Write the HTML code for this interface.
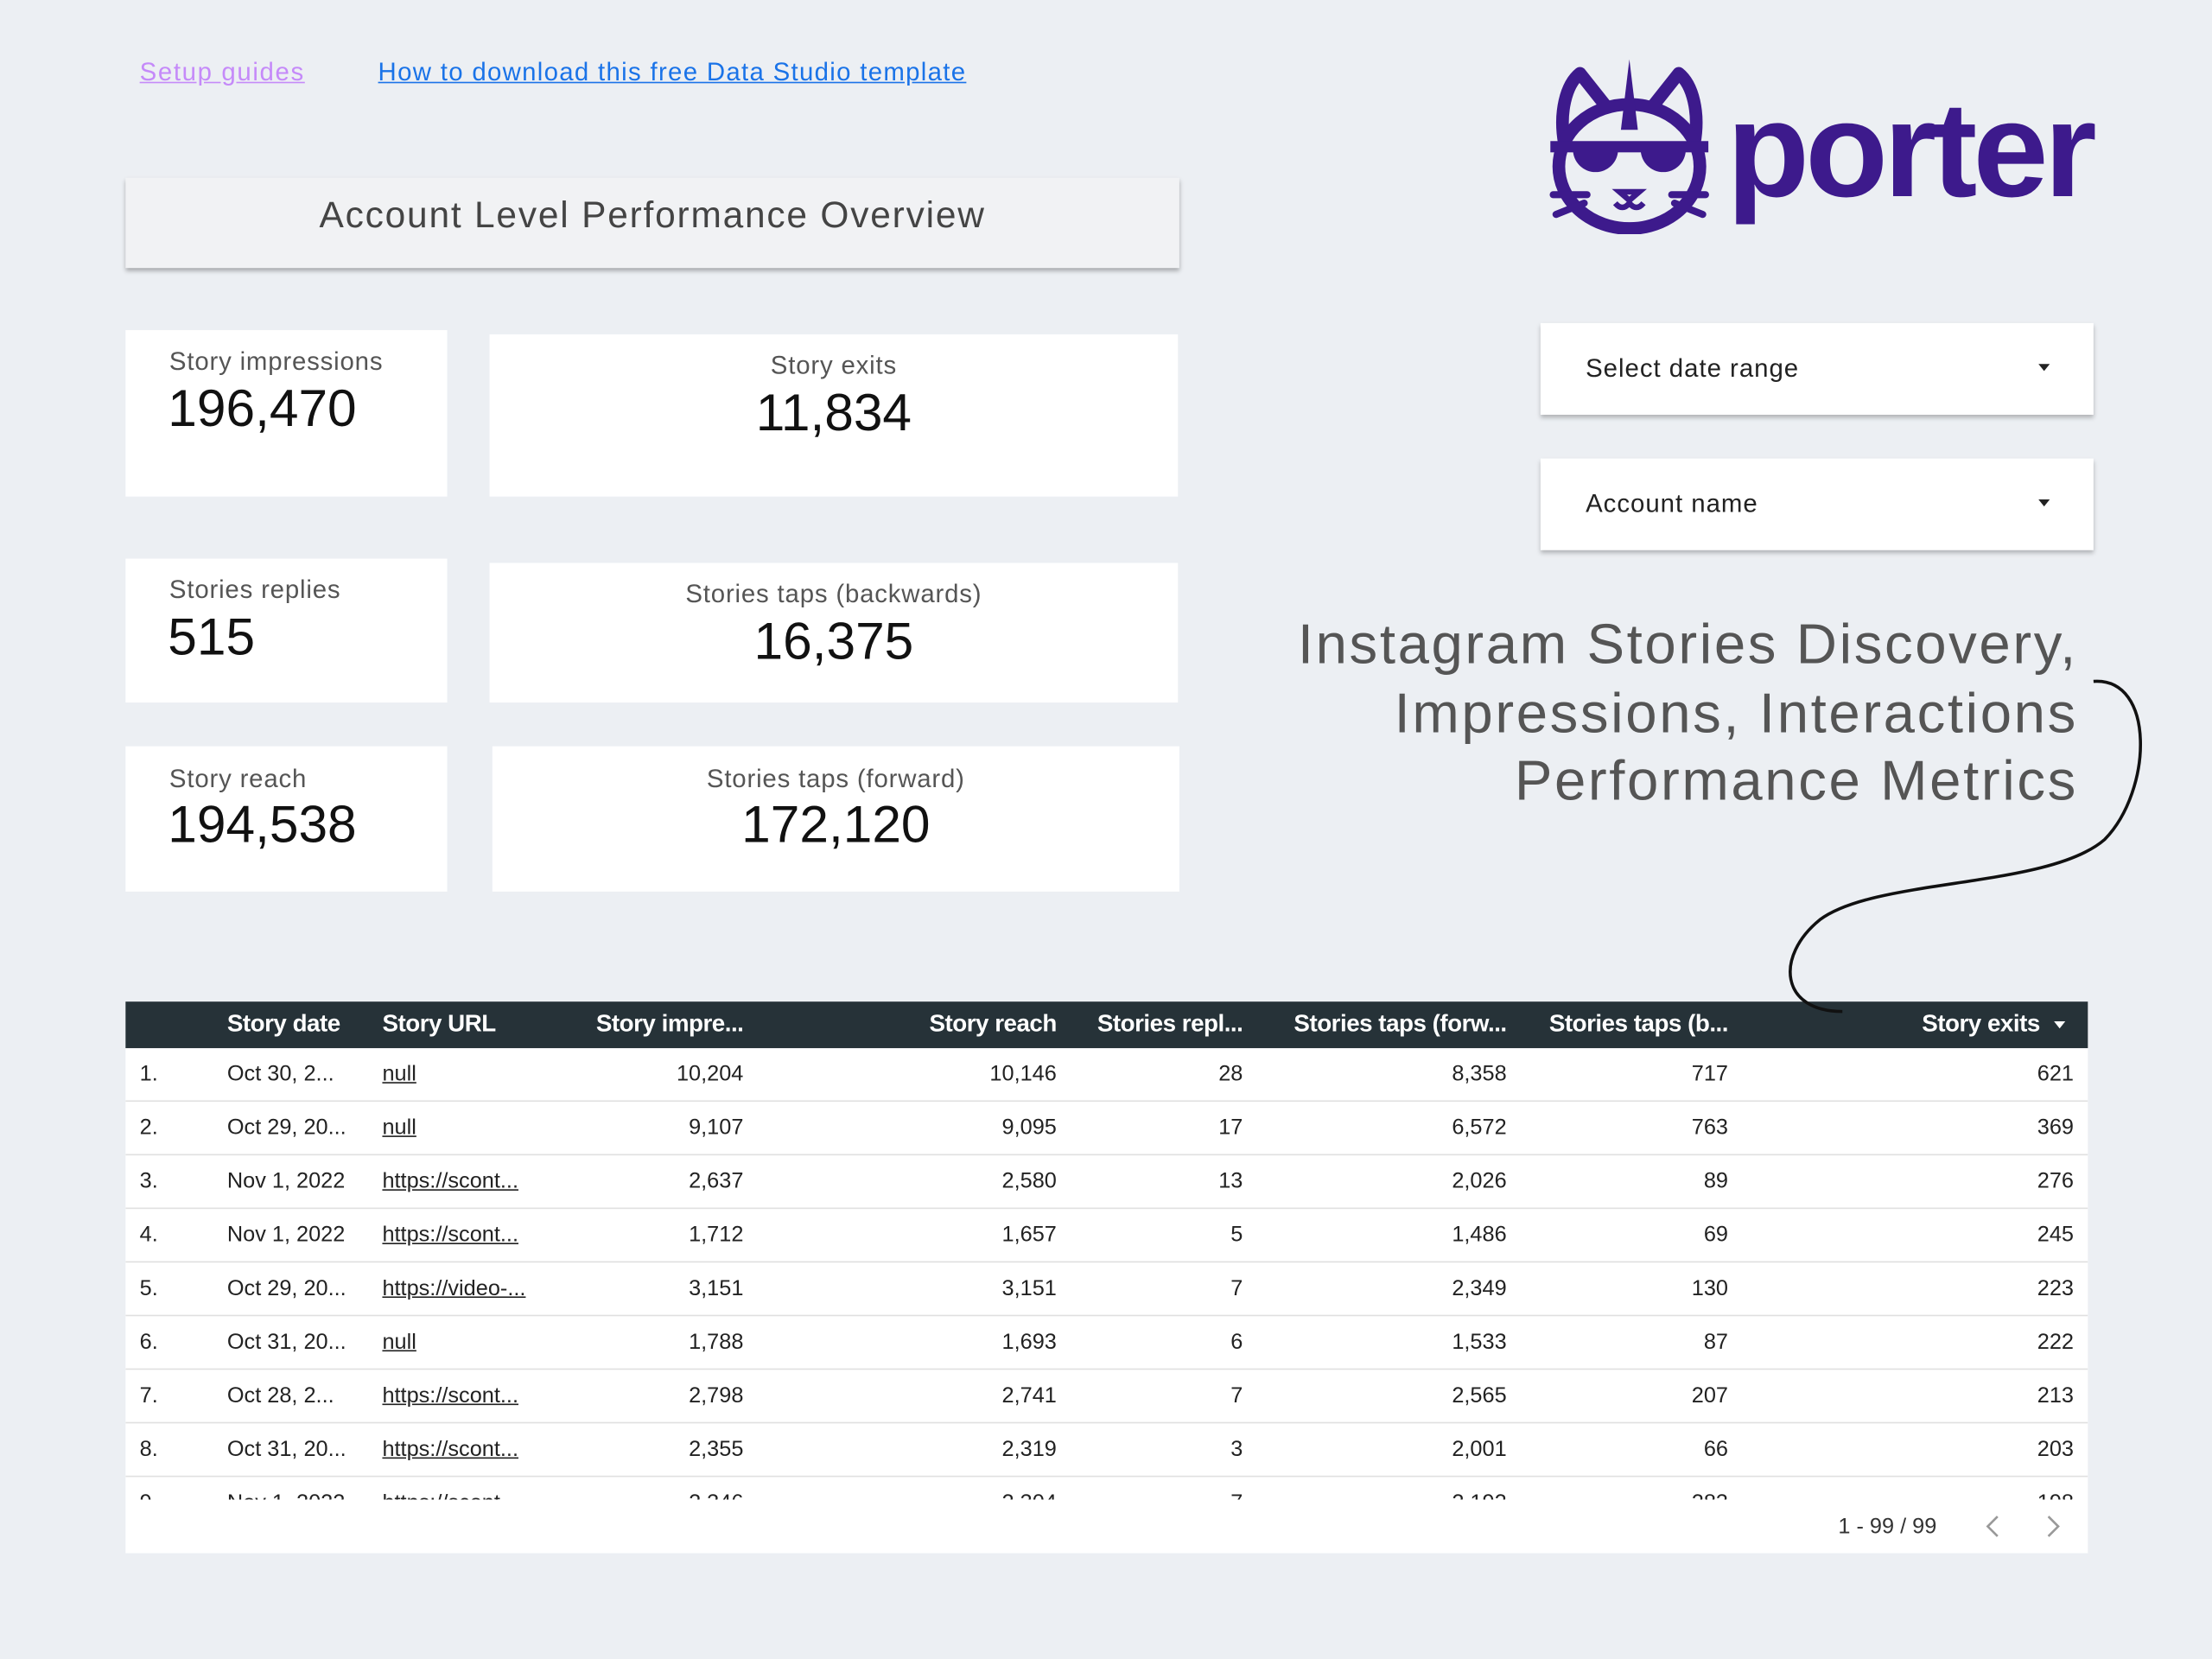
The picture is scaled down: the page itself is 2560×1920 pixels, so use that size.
<!DOCTYPE html>
<html><head><meta charset="utf-8"><style>
*{margin:0;padding:0;box-sizing:border-box}
html,body{width:2560px;height:1920px;overflow:hidden;background:#eceff3}
#w{position:absolute;left:0;top:0;width:1568px;height:1176px;transform:scale(1.632653);transform-origin:0 0;font-family:"Liberation Sans",sans-serif;color:#222}
.a{position:absolute}
.card{position:absolute;background:#fff}
.lbl{position:absolute;font-size:18px;color:#555;white-space:nowrap;letter-spacing:0.5px}
.val{position:absolute;font-size:37px;color:#111;white-space:nowrap}
.dd{position:absolute;background:#fff;box-shadow:0 2px 3px rgba(0,0,0,.25);font-size:18px;color:#222;letter-spacing:0.6px}
.hd{position:absolute;top:716px;font-size:17px;font-weight:bold;color:#fff;white-space:nowrap;letter-spacing:-0.3px}
.c{position:absolute;font-size:15.5px;color:#222;white-space:nowrap}
.r{text-align:right}
.u{text-decoration:underline}
</style></head><body><div id="w">
<a class="a" style="left:99px;top:41px;font-size:18px;color:#c58af9;text-decoration:underline;letter-spacing:1px">Setup guides</a>
<a class="a" style="left:268px;top:41px;font-size:18px;color:#1a73e8;text-decoration:underline;letter-spacing:0.8px">How to download this free Data Studio template</a>

<div class="a" style="left:89px;top:126px;width:747px;height:64px;background:#f1f2f4;box-shadow:0 2px 3px rgba(0,0,0,.3);text-align:center;line-height:52px;font-size:26px;color:#444;letter-spacing:1.1px">Account Level Performance Overview</div>

<!-- logo -->
<svg class="a" style="left:1095px;top:40px" width="120" height="126" viewBox="0 0 120 126">
<g fill="none" stroke="#3d1a8c" stroke-width="9" stroke-linejoin="round">
<path d="M14,62 C10,40 15,20 25,12 L44,36 M76,36 L95,12 C105,20 110,40 106,62"/>
<ellipse cx="60" cy="78" rx="50" ry="44"/>
</g>
<path d="M60,2 L66,52 L54,52 Z" fill="#3d1a8c"/>
<rect x="4" y="60" width="112" height="8" fill="#3d1a8c"/>
<path d="M20,66 h32 a16,16 0 0 1 -32,0z M68,66 h32 a16,16 0 0 1 -32,0z" fill="#3d1a8c"/>
<path d="M50,104 q5,6 10,0 q5,6 10,0 M53,96 h14 l-7,6z" fill="none" stroke="#3d1a8c" stroke-width="4"/>
<path d="M6,98 h24 M8,112 l20,-8 M114,98 h-24 M112,112 l-20,-8" stroke="#3d1a8c" stroke-width="5" stroke-linecap="round"/>
</svg>
<div class="a" style="left:1224px;top:52px;font-size:96px;font-weight:bold;color:#3d1a8c;letter-spacing:-3px;line-height:110px">porter</div>

<!-- KPI cards -->
<div class="card" style="left:89px;top:234px;width:228px;height:118px"></div>
<div class="lbl" style="left:120px;top:246px">Story impressions</div>
<div class="val" style="left:119px;top:269px">196,470</div>
<div class="card" style="left:347px;top:237px;width:488px;height:115px"></div>
<div class="lbl" style="left:347px;width:488px;text-align:center;top:249px">Story exits</div>
<div class="val" style="left:347px;width:488px;text-align:center;top:272px">11,834</div>

<div class="card" style="left:89px;top:396px;width:228px;height:102px"></div>
<div class="lbl" style="left:120px;top:408px">Stories replies</div>
<div class="val" style="left:119px;top:431px">515</div>
<div class="card" style="left:347px;top:399px;width:488px;height:99px"></div>
<div class="lbl" style="left:347px;width:488px;text-align:center;top:411px">Stories taps (backwards)</div>
<div class="val" style="left:347px;width:488px;text-align:center;top:434px">16,375</div>

<div class="card" style="left:89px;top:529px;width:228px;height:103px"></div>
<div class="lbl" style="left:120px;top:542px">Story reach</div>
<div class="val" style="left:119px;top:564px">194,538</div>
<div class="card" style="left:349px;top:529px;width:487px;height:103px"></div>
<div class="lbl" style="left:349px;width:487px;text-align:center;top:542px">Stories taps (forward)</div>
<div class="val" style="left:349px;width:487px;text-align:center;top:564px">172,120</div>

<!-- dropdowns -->
<div class="dd" style="left:1092px;top:229px;width:392px;height:65px"><span class="a" style="left:32px;top:22px">Select date range</span><span class="a" style="left:353px;top:29px;border:4px solid transparent;border-top:5px solid #222;width:0;height:0"></span></div>
<div class="dd" style="left:1092px;top:325px;width:392px;height:65px"><span class="a" style="left:32px;top:22px">Account name</span><span class="a" style="left:353px;top:29px;border:4px solid transparent;border-top:5px solid #222;width:0;height:0"></span></div>

<div class="a" style="right:95px;top:433px;text-align:right;font-size:40px;line-height:48.5px;color:#555;white-space:nowrap;letter-spacing:1.6px">Instagram Stories Discovery,<br>Impressions, Interactions<br>Performance Metrics</div>

<!-- table -->
<div class="a" style="left:89px;top:710px;width:1391px;height:391px;background:#fff"></div>
<div class="a" style="left:89px;top:710px;width:1391px;height:33px;background:#263238"></div>
<div class="hd" style="left:161px">Story date</div>
<div class="hd" style="left:271px">Story URL</div>
<div class="hd r" style="left:327px;width:200px">Story impre...</div>
<div class="hd r" style="left:549px;width:200px">Story reach</div>
<div class="hd r" style="left:681px;width:200px">Stories repl...</div>
<div class="hd r" style="left:868px;width:200px">Stories taps (forw...</div>
<div class="hd r" style="left:1025px;width:200px">Stories taps (b...</div>
<div class="hd r" style="left:1246px;width:200px">Story exits</div>
<div class="a" style="left:1456px;top:724px;border:4px solid transparent;border-top:5px solid #fff;width:0;height:0"></div>

<div class="a" style="left:89px;top:743px;width:1391px;height:320px;overflow:hidden">
<div id="rows" style="position:relative"></div>
</div>
<div class="c" style="left:1303px;top:1074px;color:#333">1 - 99 / 99</div>
<svg class="a" style="left:1400px;top:1072px" width="70" height="20"><path d="M16,3 L9,10 L16,17 M52,3 L59,10 L52,17" fill="none" stroke="#999" stroke-width="1.6"/></svg>

<svg class="a" style="left:0;top:0" width="1568" height="1176"><path d="M1484,483 C1528,480 1526,560 1492,595 C1452,630 1330,622 1290,652 C1258,678 1262,717 1306,717" fill="none" stroke="#111" stroke-width="2.2"/></svg>
</div>
<script>
var d=[["Oct 30, 2...","null","10,204","10,146","28","8,358","717","621"],
["Oct 29, 20...","null","9,107","9,095","17","6,572","763","369"],
["Nov 1, 2022","https://scont...","2,637","2,580","13","2,026","89","276"],
["Nov 1, 2022","https://scont...","1,712","1,657","5","1,486","69","245"],
["Oct 29, 20...","https://video-...","3,151","3,151","7","2,349","130","223"],
["Oct 31, 20...","null","1,788","1,693","6","1,533","87","222"],
["Oct 28, 2...","https://scont...","2,798","2,741","7","2,565","207","213"],
["Oct 31, 20...","https://scont...","2,355","2,319","3","2,001","66","203"],
["Nov 1, 2022","https://scont...","2,346","2,304","7","2,192","283","198"]];
var R=[527,749,881,1068,1225,1470],h="";
d.forEach(function(r,i){var t=38*i+10;
h+='<div class="c" style="left:10px;top:'+t+'px">'+(i+1)+'.</div>';
h+='<div class="c" style="left:72px;top:'+t+'px">'+r[0]+'</div>';
h+='<div class="c u" style="left:182px;top:'+t+'px">'+r[1]+'</div>';
for(var k=0;k<6;k++)h+='<div class="c r" style="left:'+(R[k]-89-150)+'px;width:150px;top:'+t+'px">'+r[k+2]+'</div>';
h+='<div class="a" style="left:0;top:'+(38*i+37)+'px;width:1391px;height:1px;background:#e0e0e0"></div>';});
document.getElementById('rows').innerHTML=h;
</script>
</body></html>
